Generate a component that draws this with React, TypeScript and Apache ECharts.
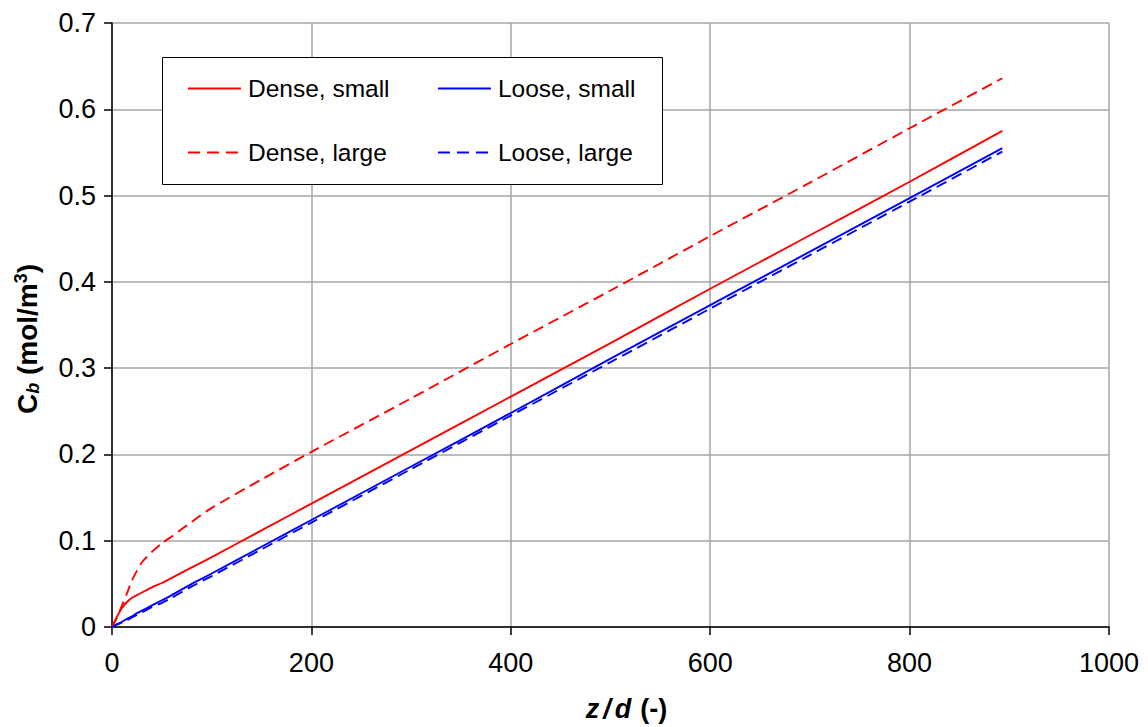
import React, { useEffect, useRef } from "react";
import * as echarts from "echarts";

const zd = [0, 5, 10, 15, 20, 25, 30, 40, 50, 60, 80, 100, 150, 200, 300, 400, 500, 600, 700, 800, 893];
const denseSmall = [0, 0.012, 0.022, 0.029, 0.034, 0.037, 0.04, 0.046, 0.051, 0.057, 0.069, 0.081, 0.112, 0.143, 0.205, 0.267, 0.329, 0.392, 0.454, 0.516, 0.575];
const denseLarge = [0, 0.011, 0.025, 0.039, 0.054, 0.065, 0.075, 0.087, 0.097, 0.105, 0.122, 0.138, 0.171, 0.203, 0.265, 0.328, 0.39, 0.453, 0.515, 0.578, 0.636];
const looseSmall = [0, 0.003, 0.006, 0.0095, 0.0125, 0.016, 0.019, 0.025, 0.031, 0.037, 0.05, 0.062, 0.093, 0.124, 0.186, 0.248, 0.311, 0.373, 0.435, 0.497, 0.555];
const looseLarge = [0, 0.003, 0.005, 0.008, 0.011, 0.014, 0.017, 0.023, 0.028, 0.034, 0.047, 0.059, 0.09, 0.121, 0.183, 0.245, 0.307, 0.369, 0.431, 0.493, 0.551];

const seriesNames = ["Dense, small", "Loose, small", "Dense, large", "Loose, large"];

const pair = (ys: number[]) => zd.map((x, i) => [x, ys[i]]);

export default function App() {
  const ref = useRef<HTMLDivElement>(null);
  useEffect(() => {
    if (!ref.current) return;
    const chart = echarts.init(ref.current, null, { renderer: "svg" });
    const font = "Arial, 'Liberation Sans', sans-serif";
    const dash = [11, 6];
    const mk = (name: string, data: number[], color: string, dashed: boolean) => ({
      name,
      type: "line",
      data: pair(data),
      showSymbol: false,
      symbol: "none",
      smooth: 0.25,
      lineStyle: { color, width: 1.9, type: dashed ? dash : "solid" },
      itemStyle: { color },
      z: 3,
    });
    const legendPos = [
      { left: 187, top: 76 },
      { left: 437, top: 76 },
      { left: 187, top: 140 },
      { left: 437, top: 140 },
    ];
    const legendDashed = [false, false, true, true];
    chart.setOption({
      animation: false,
      backgroundColor: "#ffffff",
      textStyle: { fontFamily: font },
      grid: { left: 112, right: 39, top: 23, bottom: 98 },
      graphic: [
        {
          type: "rect",
          left: 162,
          top: 57,
          shape: { width: 500, height: 127 },
          style: { fill: "#ffffff", stroke: "#000000", lineWidth: 1 },
          z: 10,
        },
      ],
      legend: seriesNames.map((n, i) => ({
        data: [n],
        left: legendPos[i].left,
        top: legendPos[i].top,
        itemWidth: 53,
        itemHeight: 14,
        itemGap: 0,
        padding: 0,
        selectedMode: false,
        z: 20,
        itemStyle: { opacity: 0 },
        lineStyle: { width: 1.9, type: legendDashed[i] ? [12, 7] : "solid" },
        textStyle: { fontFamily: font, fontSize: 24.5, color: "#000", padding: [0, 0, 0, 2] },
      })),
      xAxis: {
        type: "value",
        min: 0,
        max: 1000,
        interval: 200,
        name: "{z|z}{z|/}{i|d}{b|(-)}",
        nameLocation: "middle",
        nameGap: 68,
        nameTextStyle: {
          padding: [0, 0, 0, 32],
          rich: {
            z: { fontFamily: font, fontSize: 27, fontWeight: "bold", fontStyle: "italic", color: "#000", padding: [0, 4, 0, 0] },
            i: { fontFamily: font, fontSize: 27, fontWeight: "bold", fontStyle: "italic", color: "#000", padding: [0, 9, 0, 0] },
            b: { fontFamily: font, fontSize: 27, fontWeight: "bold", color: "#000" },
          },
        },
        axisLine: { show: true, onZero: false, lineStyle: { color: "#000", width: 1.5 } },
        axisTick: { show: true, inside: false, length: 8, lineStyle: { color: "#000", width: 1.5 } },
        axisLabel: { fontFamily: font, fontSize: 27, color: "#000", margin: 22, formatter: (v: number) => String(v) },
        splitLine: { show: true, lineStyle: { color: "#a6a6a6", width: 1.5 } },
      },
      yAxis: {
        type: "value",
        min: 0,
        max: 0.7,
        interval: 0.1,
        name: "{b|C}{s|b}{b| (mol/m}{p|3}{b|)}",
        nameLocation: "middle",
        nameGap: 70,
        nameRotate: 90,
        nameTextStyle: {
          padding: [0, 28, 0, 0],
          rich: {
            b: { fontFamily: font, fontSize: 28, fontWeight: "bold", color: "#000" },
            s: { fontFamily: font, fontSize: 18, fontWeight: "bold", fontStyle: "italic", color: "#000", verticalAlign: "bottom", padding: [12, 0, 0, 0] },
            p: { fontFamily: font, fontSize: 18, fontWeight: "bold", color: "#000", verticalAlign: "top", padding: [0, 0, 12, 0] },
          },
        },
        axisLine: { show: true, lineStyle: { color: "#000", width: 1.5 } },
        axisTick: { show: true, inside: false, length: 8, lineStyle: { color: "#000", width: 1.5 } },
        axisLabel: { fontFamily: font, fontSize: 27, color: "#000", margin: 16, formatter: (v: number) => String(Math.round(v * 10) / 10) },
        splitLine: { show: true, lineStyle: { color: "#a6a6a6", width: 1.5 } },
      },
      series: [
        mk("Dense, small", denseSmall, "#ff0000", false),
        mk("Loose, small", looseSmall, "#0000ff", false),
        mk("Dense, large", denseLarge, "#ff0000", true),
        mk("Loose, large", looseLarge, "#0000ff", true),
      ],
    });
    return () => chart.dispose();
  }, []);
  return <div ref={ref} style={{ position: "fixed", left: 0, top: 0, width: 1148, height: 727 }} />;
}
